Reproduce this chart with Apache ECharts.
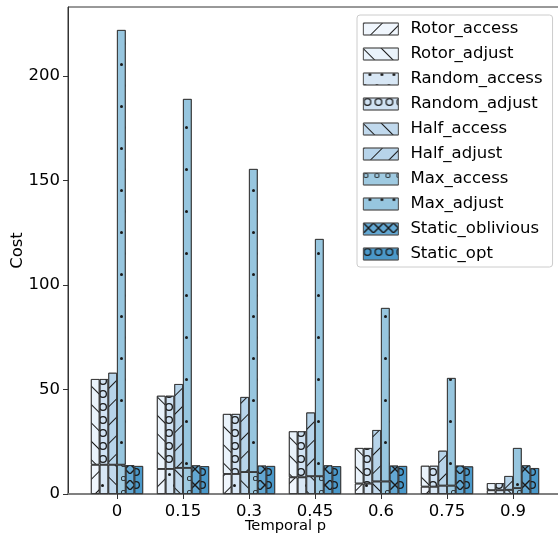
<!DOCTYPE html>
<html>
<head>
<meta charset="utf-8">
<script src="https://cdn.jsdelivr.net/npm/echarts@6/dist/echarts.min.js"></script>
<style>
  html, body { margin: 0; padding: 0; background: #fff; }
  #chart { width: 558px; height: 537px; }
</style>
</head>
<body>
<div id="chart"></div>
<script>
var categories = ['0', '0.15', '0.3', '0.45', '0.6', '0.75', '0.9'];
var yTicks = [0, 50, 100, 150, 200];

// bottom part (access) and top part (adjust) of each stacked column
var rotor_access = [14, 12, 9.6, 8, 5, 3.5, 1.8];
var rotor_adjust = [41, 35, 28.7, 22, 17, 10, 3.4];
var random_access = [14, 12, 9.6, 8, 5, 3.5, 1.8];
var random_adjust = [41, 35, 28.7, 22, 17, 10, 3.4];
var half_access = [14, 12.5, 10.5, 8.5, 6, 4, 2];
var half_adjust = [44, 40.1, 35.9, 30.5, 24.6, 16.7, 6.6];
var max_access = [14, 12.5, 10.5, 8.5, 6, 4, 2.8];
var max_adjust = [208, 176.5, 145, 113.5, 83, 51.5, 19.2];
var static_oblivious = [13.8, 13.7, 13.6, 13.7, 13.6, 13.6, 13.7];
var static_opt = [13.4, 13.3, 13.4, 13.3, 13.4, 13.2, 12.4];

var FONT = 'DejaVu Sans';
var EDGE = '#333';
var HATCH = '#1a1a1a';
var YMAX = 233;

// hatch patterns
var ring = 'path://M0,5a5,5 0 1,0 10,0a5,5 0 1,0 -10,0zM1.6,5a3.4,3.4 0 1,1 6.8,0a3.4,3.4 0 1,1 -6.8,0z';
var cross = 'path://M0,0L1,0L10,9L10,10L9,10L0,1Z M9,0L10,0L10,1L1,10L0,10L0,9Z';
var hatch = {
    fwd: {symbol: 'rect', symbolSize: 1, color: HATCH, dashArrayX: [1, 0], dashArrayY: [1, 12], rotation: -Math.PI / 4},
    back: {symbol: 'rect', symbolSize: 1, color: HATCH, dashArrayX: [1, 0], dashArrayY: [1, 12], rotation: Math.PI / 4},
    dots: {symbol: 'circle', symbolSize: 1, color: HATCH, dashArrayX: [[2.5, 9], [0, 5, 2.5, 4]], dashArrayY: [2.5, 8], rotation: 0},
    sparseDots: {symbol: 'circle', symbolSize: 1, color: HATCH, dashArrayX: [[2.5, 9], [0, 5, 2.5, 4]], dashArrayY: [2.5, 18], rotation: 0},
    bigO: {symbol: ring, symbolSize: 1, color: HATCH, dashArrayX: [8, 3], dashArrayY: [8, 5], rotation: 0},
    smallO: {symbol: ring, symbolSize: 1, color: HATCH, dashArrayX: [4.5, 6], dashArrayY: [4.5, 9], rotation: 0},
    cross: {symbol: cross, symbolSize: 1, color: HATCH, dashArrayX: [10, 0], dashArrayY: [10, 6], rotation: 0}
};

function barSeries(name, data, stack, color, decal) {
    var s = {
        name: name,
        type: 'bar',
        xAxisIndex: 1,
        yAxisIndex: 1,
        data: data,
        barWidth: 8.7,
        barGap: '0%',
        itemStyle: {color: color, borderColor: EDGE, borderWidth: 0.8, decal: decal},
        emphasis: {disabled: true}
    };
    if (stack) s.stack = stack;
    return s;
}

var chartDom = document.getElementById('chart');
var myChart = echarts.init(chartDom);
var option;

option = {
    animation: false,
    textStyle: {fontFamily: FONT},
    grid: [
        // frame (spines, y ticks)
        {left: 68, right: -1, top: 7, bottom: 43, show: true, borderColor: '#333', borderWidth: 1,
            containLabel: false, outerBoundsMode: 'none'},
        // bars
        {left: 84, right: 12, top: 7, bottom: 43, containLabel: false, outerBoundsMode: 'none'}
    ],
    legend: {
        left: 357,
        top: 15,
        orient: 'vertical',
        itemWidth: 35,
        itemHeight: 12,
        itemGap: 7,
        padding: [5, 10, 4, 6],
        backgroundColor: '#fff',
        borderColor: '#ccc',
        borderWidth: 1,
        borderRadius: 3,
        icon: 'rect',
        itemStyle: {borderWidth: 0.8, borderColor: '#555'},
        textStyle: {fontFamily: FONT, fontSize: 16.5, color: '#000', lineHeight: 18, padding: [0, 0, 0, 7]},
        data: ['Rotor_access', 'Rotor_adjust', 'Random_access', 'Random_adjust', 'Half_access',
            'Half_adjust', 'Max_access', 'Max_adjust', 'Static_oblivious', 'Static_opt']
    },
    xAxis: [
        {
            gridIndex: 0,
            type: 'value',
            min: 0,
            max: 1,
            name: 'Temporal p',
            nameLocation: 'middle',
            nameGap: 25,
            nameTextStyle: {fontFamily: FONT, fontSize: 14.7, color: '#000', padding: [0, 56, 0, 0]},
            axisLine: {show: true, lineStyle: {color: '#808080', width: 2}},
            axisTick: {show: false},
            axisLabel: {show: false},
            splitLine: {show: false}
        },
        {
            gridIndex: 1,
            type: 'category',
            data: categories,
            axisLine: {show: false},
            axisTick: {show: true, alignWithLabel: true, length: 5, lineStyle: {color: '#333'}},
            axisLabel: {margin: 9, interval: 0, fontFamily: FONT, fontSize: 16.5, color: '#000'},
            splitLine: {show: false}
        }
    ],
    yAxis: [
        {
            gridIndex: 0,
            type: 'value',
            min: 0,
            max: YMAX,
            name: 'Cost',
            nameLocation: 'middle',
            nameGap: 42,
            nameMoveOverlap: false,
            nameTextStyle: {fontFamily: FONT, fontSize: 16.5, color: '#000'},
            axisLine: {show: true, lineStyle: {color: '#333', width: 1}},
            axisTick: {show: true, length: 5, customValues: yTicks, lineStyle: {color: '#333'}},
            axisLabel: {customValues: yTicks, margin: 8, fontFamily: FONT, fontSize: 16.5, color: '#000'},
            splitLine: {show: false}
        },
        {
            gridIndex: 1,
            type: 'value',
            min: 0,
            max: YMAX,
            show: false
        }
    ],
    series: [
        barSeries('Rotor_access', rotor_access, 'rotor', '#f0f6fd', hatch.fwd),
        barSeries('Rotor_adjust', rotor_adjust, 'rotor', '#eaf3fb', hatch.back),
        barSeries('Random_access', random_access, 'random', '#d8e7f5', hatch.dots),
        barSeries('Random_adjust', random_adjust, 'random', '#d0e2f3', hatch.bigO),
        barSeries('Half_access', half_access, 'half', '#c1d9ed', hatch.back),
        barSeries('Half_adjust', half_adjust, 'half', '#b7d4ea', hatch.fwd),
        barSeries('Max_access', max_access, 'max', '#9fcae1', hatch.smallO),
        barSeries('Max_adjust', max_adjust, 'max', '#97c6df', hatch.sparseDots),
        barSeries('Static_oblivious', static_oblivious, null, '#63a8d3', hatch.cross),
        barSeries('Static_opt', static_opt, null, '#4a98c9', hatch.bigO)
    ]
};

option && myChart.setOption(option);
</script>
</body>
</html>
